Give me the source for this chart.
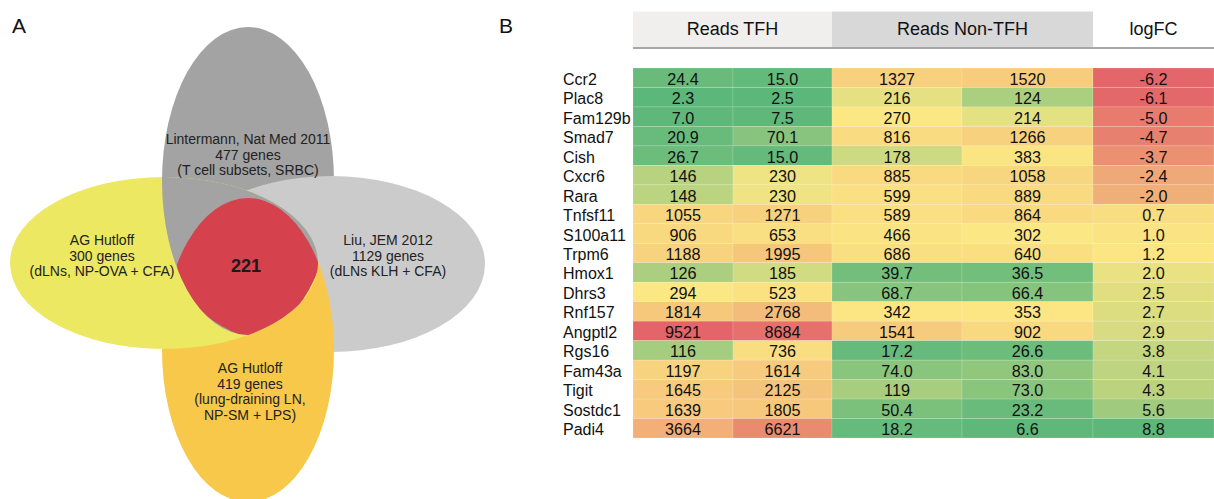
<!DOCTYPE html>
<html>
<head>
<meta charset="utf-8">
<script src="https://cdn.jsdelivr.net/npm/d3@7"></script>
<style>
  html, body { margin: 0; padding: 0; background: #fff; }
  svg { display: block; font-family: 'Liberation Sans', Arial, Helvetica, sans-serif; }
</style>
</head>
<body>
<div id="chart"></div>
<script>
// ---- data ----
const vennSets = ['dark', 'light', 'yellow', 'orange'];
const vennLabels = [
  ['Lintermann, Nat Med 2011', '477 genes', '(T cell subsets, SRBC)'],
  ['Liu, JEM 2012', '1129 genes', '(dLNs KLH + CFA)'],
  ['AG Hutloff', '300 genes', '(dLNs, NP-OVA + CFA)'],
  ['AG Hutloff', '419 genes', '(lung-draining LN,', 'NP-SM + LPS)'],
];
const sharedGenes = 221;

const groupHeaders = ['Reads TFH', 'Reads Non-TFH', 'logFC'];
const genes = ['Ccr2', 'Plac8', 'Fam129b', 'Smad7', 'Cish', 'Cxcr6', 'Rara', 'Tnfsf11', 'S100a11', 'Trpm6',
  'Hmox1', 'Dhrs3', 'Rnf157', 'Angptl2', 'Rgs16', 'Fam43a', 'Tigit', 'Sostdc1', 'Padi4'];
const tfh1 = [24.4, 2.3, 7.0, 20.9, 26.7, 146, 148, 1055, 906, 1188, 126, 294, 1814, 9521, 116, 1197, 1645, 1639, 3664];
const tfh2 = [15.0, 2.5, 7.5, 70.1, 15.0, 230, 230, 1271, 653, 1995, 185, 523, 2768, 8684, 736, 1614, 2125, 1805, 6621];
const non1 = [1327, 216, 270, 816, 178, 885, 599, 589, 466, 686, 39.7, 68.7, 342, 1541, 17.2, 74.0, 119, 50.4, 18.2];
const non2 = [1520, 124, 214, 1266, 383, 1058, 889, 864, 302, 640, 36.5, 66.4, 353, 902, 26.6, 83.0, 73.0, 23.2, 6.6];
const logFC = [-6.2, -6.1, -5.0, -4.7, -3.7, -2.4, -2.0, 0.7, 1.0, 1.2, 2.0, 2.5, 2.7, 2.9, 3.8, 4.1, 4.3, 5.6, 8.8];

const width = 1214;
const height = 499;

const svg = d3
  .select('#chart')
  .append('svg')
  .attr('width', width)
  .attr('height', height);

// panel letters
svg.append('text').attr('x', 12).attr('y', 33).attr('font-size', 21).attr('fill', '#111').text('A');
svg.append('text').attr('x', 499).attr('y', 33).attr('font-size', 21).attr('fill', '#111').text('B');

// ---- Venn (panel A) ----
const ellipses = {
  dark: { cx: 248, cy: 181, rx: 86, ry: 154, fill: '#a3a3a3' },
  light: { cx: 331, cy: 264, rx: 154, ry: 88, fill: '#cbcbcb' },
  yellow: { cx: 164, cy: 263, rx: 154, ry: 86, fill: '#ece862' },
  orange: { cx: 248, cy: 350, rx: 86, ry: 152, fill: '#f7c84a' },
};

const defs = svg.append('defs');
vennSets.forEach((key) => {
  let e = ellipses[key];
  defs
    .append('clipPath')
    .attr('id', `clip-${key}`)
    .append('ellipse')
    .attr('cx', e.cx)
    .attr('cy', e.cy)
    .attr('rx', e.rx)
    .attr('ry', e.ry);
});

const venn = svg.append('g').attr('class', 'venn');

function drawEllipse(parent, key) {
  let e = ellipses[key];
  return parent
    .append('ellipse')
    .attr('cx', e.cx)
    .attr('cy', e.cy)
    .attr('rx', e.rx)
    .attr('ry', e.ry)
    .attr('fill', e.fill);
}

// overlaps are cyclic, so some parts are drawn twice with a clip
['dark', 'light', 'orange', 'yellow'].forEach((key) => drawEllipse(venn, key));
drawEllipse(venn.append('g').attr('clip-path', 'url(#clip-yellow)'), 'dark');

// intersection of all four sets
let inner = venn;
vennSets.forEach((key) => {
  inner = inner.append('g').attr('clip-path', `url(#clip-${key})`);
});
inner.append('rect').attr('width', width).attr('height', height).attr('fill', '#d5414c');

const labelPos = [
  { x: 248, y: 144 },
  { x: 388, y: 245 },
  { x: 102, y: 245 },
  { x: 250, y: 373 },
];

vennLabels.forEach((lines, i) => {
  let t = venn
    .append('text')
    .attr('text-anchor', 'middle')
    .attr('font-size', 14)
    .attr('fill', '#222');
  lines.forEach((line, j) => {
    t.append('tspan')
      .attr('x', labelPos[i].x)
      .attr('y', labelPos[i].y + j * 15.6)
      .text(line);
  });
});

venn
  .append('text')
  .attr('x', 246)
  .attr('y', 272)
  .attr('text-anchor', 'middle')
  .attr('font-size', 18)
  .attr('font-weight', 'bold')
  .attr('fill', '#1a1a1a')
  .text(sharedGenes);

// ---- heatmap (panel B) ----
const columns = [tfh1, tfh2, non1, non2, logFC];

const xScale = d3
  .scaleLinear()
  .domain([0, 1, 2, 3, 4, 5])
  .range([633, 733, 832, 962, 1093, 1214]);

const yScale = d3
  .scaleBand()
  .domain(genes)
  .range([68, 438]);

const readsColor = d3
  .scaleLinear()
  .domain([2.3, 250, 1500, 9521])
  .range(['#5cb77a', '#fbe884', '#f7cc7d', '#e3656a']);

const fcColor = d3
  .scaleLinear()
  .domain([-6.2, 1.2, 8.8])
  .range(['#e3666a', '#fbe683', '#5db67a']);

// header boxes
const headerSpans = [[0, 2, '#f0efee'], [2, 4, '#d8d8d8'], [4, 5, '#ffffff']];
const header = svg.append('g').attr('class', 'header');

header
  .selectAll('rect')
  .data(headerSpans)
  .join('rect')
  .attr('x', (d) => xScale(d[0]))
  .attr('y', 11.5)
  .attr('width', (d) => xScale(d[1]) - xScale(d[0]))
  .attr('height', 35.5)
  .attr('fill', (d) => d[2]);

header
  .selectAll('text')
  .data(groupHeaders)
  .join('text')
  .attr('x', (d, i) => (xScale(headerSpans[i][0]) + xScale(headerSpans[i][1])) / 2)
  .attr('y', 35)
  .attr('text-anchor', 'middle')
  .attr('font-size', 18)
  .attr('fill', '#111')
  .text((d) => d);

header
  .append('line')
  .attr('x1', xScale(0))
  .attr('x2', xScale(5))
  .attr('y1', 48)
  .attr('y2', 48)
  .attr('stroke', '#8a8a8a')
  .attr('stroke-width', 1.5);

// cells
let cells = [];
columns.forEach((values, c) => {
  values.forEach((v, r) => {
    cells.push({ col: c, gene: genes[r], value: v });
  });
});

const fmt = (d) => (d.col === 4 || d.value < 100 ? d.value.toFixed(1) : String(d.value));

const grid = svg.append('g').attr('class', 'cells');

grid
  .selectAll('rect')
  .data(cells)
  .join('rect')
  .attr('x', (d) => xScale(d.col))
  .attr('y', (d) => yScale(d.gene))
  .attr('width', (d) => xScale(d.col + 1) - xScale(d.col))
  .attr('height', yScale.bandwidth())
  .attr('fill', (d) => (d.col === 4 ? fcColor(d.value) : readsColor(d.value)))
  .attr('stroke', '#ffffff')
  .attr('stroke-opacity', 0.25)
  .attr('stroke-width', 0.6);

grid
  .selectAll('text')
  .data(cells)
  .join('text')
  .attr('x', (d) => (xScale(d.col) + xScale(d.col + 1)) / 2)
  .attr('y', (d) => yScale(d.gene) + yScale.bandwidth() / 2 + 7)
  .attr('text-anchor', 'middle')
  .attr('font-size', 16.2)
  .attr('fill', '#111')
  .text(fmt);

svg
  .append('g')
  .attr('class', 'row-labels')
  .selectAll('text')
  .data(genes)
  .join('text')
  .attr('x', 563)
  .attr('y', (d) => yScale(d) + yScale.bandwidth() / 2 + 7)
  .attr('font-size', 16)
  .attr('fill', '#111')
  .text((d) => d);
</script>
</body>
</html>
